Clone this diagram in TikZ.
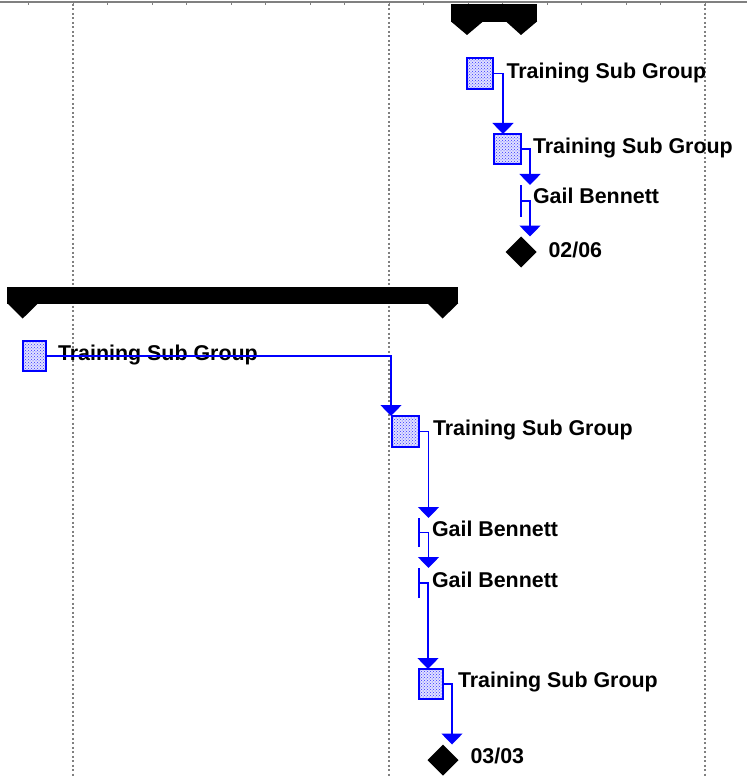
\documentclass[tikz,border=0pt]{standalone}
\usepackage{fontspec}
\setmainfont{Liberation Sans}
\usetikzlibrary{arrows.meta,shapes.geometric,patterns}

\begin{document}
\begin{tikzpicture}[x=1pt,y=-1pt,
  every node/.style={inner sep=0pt, outer sep=0pt},
  taskbox/.style={draw=blue, line width=1.2pt, preaction={fill=blue!12},
    pattern=crosshatch dots, pattern color=blue!80, anchor=north west},
  shorttask/.style={fill=blue, minimum width=2pt, anchor=north},
  milestone/.style={diamond, fill=black, minimum width=31pt, minimum height=31pt},
  lbl/.style={anchor=base west, font=\bfseries\fontsize{21.4}{25}\selectfont},
  link/.style={draw=blue, line width=1.5pt, -{Triangle[width=21pt,length=11pt]}},
  gridline/.style={draw=gray, line width=1.2pt, dash pattern=on 2pt off 2.5pt},
  summary/.style={fill=black}]

% canvas
\fill[white] (0,0) rectangle (747,778);
\useasboundingbox (0,0) rectangle (747,778);

% timescale rule with its tick marks
\draw[gray, line width=2pt] (0,2) -- (747,2);
\foreach \t in {28,73,107,152,186,231,265,310,344,389,423,468,502,547,581,626,660,705}
  \draw[gray, line width=1pt] (\t,2) -- (\t,5);

% week boundaries
\foreach \t in {73,389,705}
  \draw[gridline] (\t,4) -- (\t,778);

% ---- first summary group ----
\fill[summary] (451,4) rectangle (537,22);
\fill[summary] (451,21.5) -- (483,21.5) -- (467,35) -- cycle;
\fill[summary] (506,21.5) -- (537,21.5) -- (521,35) -- cycle;

\node[taskbox, minimum width=26pt, minimum height=31pt] (b1) at (467,58) {};
\node[lbl] (t1) at (506.5,78.5) {Training Sub Group};
\node[taskbox, minimum width=27pt, minimum height=30pt] (b2) at (494,134) {};
\node[lbl] (t2) at (533,153.5) {Training Sub Group};
\node[shorttask, minimum height=32pt] (g1) at (521,185) {};
\node[lbl] (t3) at (533,203) {Gail Bennett};
\node[milestone] (m1) at (521,252) {};
\node[lbl] (t4) at (548.5,257) {02/06};

\draw[link] (b1.east) -| ([xshift=9pt]b2.north west);
\draw[link] (b2.east) -| ([xshift=9pt]g1.north);
\draw[link] (g1.east) -| ([xshift=9pt]m1.north);

% ---- second summary group ----
\fill[summary] (7,287) rectangle (458,303.5);
\fill[summary] (7,303) -- (38.5,303) -- (22.7,318.5) -- cycle;
\fill[summary] (427,303) -- (458.3,303) -- (442.7,318.5) -- cycle;

\node[taskbox, minimum width=23pt, minimum height=30pt] (bA) at (23,341) {};
\node[lbl] (tA) at (58,360) {Training Sub Group};
\node[taskbox, minimum width=27pt, minimum height=31pt] (bB) at (392,416) {};
\node[lbl] (tB) at (433,435) {Training Sub Group};
\node[shorttask, minimum height=29pt] (gC) at (418.5,518) {};
\node[lbl] (tC) at (432,536) {Gail Bennett};
\node[shorttask, minimum height=30pt] (gD) at (418.5,568) {};
\node[lbl] (tD) at (432,587) {Gail Bennett};
\node[taskbox, minimum width=24pt, minimum height=30pt] (bE) at (419,669) {};
\node[lbl] (tE) at (458,687) {Training Sub Group};
\node[milestone] (m2) at (443,760) {};
\node[lbl] (tF) at (470.5,763) {03/03};

\draw[link] (bA.east) -| ([xshift=-1pt]bB.north west);
\draw[link] (bB.east) -| ([xshift=10pt]gC.north);
\draw[link] (gC.east) -| ([xshift=10pt]gD.north);
\draw[link] (gD.east) -| ([xshift=9pt]bE.north west);
\draw[link] (bE.east) -| ([xshift=9pt]m2.north);
\end{tikzpicture}
\end{document}
